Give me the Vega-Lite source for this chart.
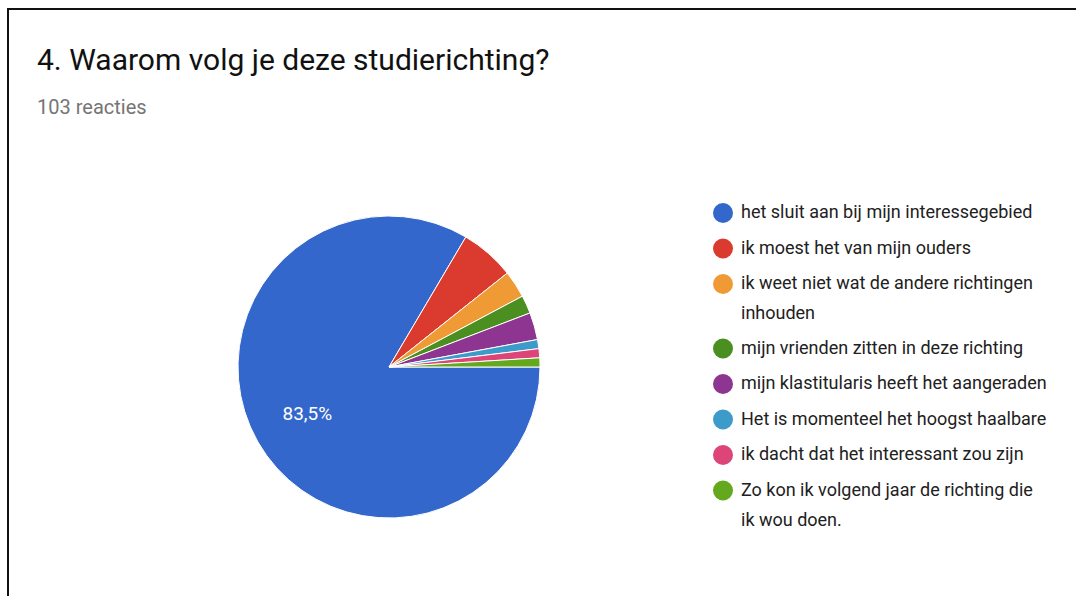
{
  "$schema": "https://vega.github.io/schema/vega-lite/v6.json",
  "width": 1100,
  "height": 620,
  "autosize": "none",
  "padding": {"left": 8, "top": 9, "right": -32, "bottom": -33},
  "background": "white",
  "view": {"stroke": "#111111", "strokeWidth": 2},
  "title": {
    "text": "4. Waarom volg je deze studierichting?",
    "subtitle": "103 reacties",
    "anchor": "start",
    "frame": "group",
    "orient": "top",
    "offset": -109,
    "dx": 29,
    "font": "Roboto",
    "fontSize": 30,
    "fontWeight": "normal",
    "color": "#111111",
    "subtitleFont": "Roboto",
    "subtitleFontSize": 20,
    "subtitleColor": "#757575",
    "subtitlePadding": 22
  },
  "data": {
    "values": [
      {"reason": "het sluit aan bij mijn interessegebied", "count": 86},
      {"reason": "ik moest het van mijn ouders", "count": 6},
      {"reason": "ik weet niet wat de andere richtingen inhouden", "count": 3},
      {"reason": "mijn vrienden zitten in deze richting", "count": 2},
      {"reason": "mijn klastitularis heeft het aangeraden", "count": 3},
      {"reason": "Het is momenteel het hoogst haalbare", "count": 1},
      {"reason": "ik dacht dat het interessant zou zijn", "count": 1},
      {"reason": "Zo kon ik volgend jaar de richting die ik wou doen.", "count": 1}
    ]
  },
  "transform": [
    {"window": [{"op": "row_number", "as": "idx"}]},
    {"joinaggregate": [{"op": "sum", "field": "count", "as": "total"}]},
    {"calculate": "datum.count / datum.total", "as": "pct"}
  ],
  "encoding": {
    "theta": {"field": "count", "type": "quantitative", "stack": true, "scale": {"range": [1.5707963, 7.8539816]}},
    "order": {"field": "idx", "type": "quantitative"},
    "color": {
      "field": "reason",
      "type": "nominal",
      "sort": null,
      "scale": {
        "domain": [
          "het sluit aan bij mijn interessegebied",
          "ik moest het van mijn ouders",
          "ik weet niet wat de andere richtingen inhouden",
          "mijn vrienden zitten in deze richting",
          "mijn klastitularis heeft het aangeraden",
          "Het is momenteel het hoogst haalbare",
          "ik dacht dat het interessant zou zijn",
          "Zo kon ik volgend jaar de richting die ik wou doen."
        ],
        "range": ["#3367CC", "#DB3B2E", "#F09A36", "#4A8F1F", "#8E3592", "#3D9BC9", "#DD4478", "#63A81D"]
      },
      "legend": {
        "orient": "none",
        "legendX": 705,
        "legendY": 194,
        "title": null,
        "padding": 0,
        "symbolType": "circle",
        "symbolSize": 400,
        "symbolStrokeWidth": 0,
        "symbolOpacity": 1,
        "labelFont": "Roboto",
        "labelFontSize": 18,
        "labelColor": "#212121",
        "labelOffset": 8,
        "labelLimit": 500,
        "rowPadding": 15.5,
        "labelExpr": "datum.label == 'ik weet niet wat de andere richtingen inhouden' ? ['ik weet niet wat de andere richtingen', 'inhouden'] : datum.label == 'Zo kon ik volgend jaar de richting die ik wou doen.' ? ['Zo kon ik volgend jaar de richting die', 'ik wou doen.'] : datum.label"
      }
    }
  },
  "layer": [
    {"mark": {"type": "arc", "outerRadius": 151, "x": 381, "y": 358, "stroke": "white", "strokeWidth": 1}},
    {
      "mark": {"type": "text", "radius": 94, "x": 381, "y": 358, "font": "Roboto", "fontSize": 19, "fill": "white"},
      "encoding": {
        "text": {"condition": {"test": "datum.pct > 0.1", "field": "pct", "format": ".1%"}, "value": ""},
        "color": {"value": "white"}
      }
    }
  ],
  "config": {
    "view": {"stroke": "#111111", "strokeWidth": 2},
    "style": {"guide-label": {"lineHeight": 30}},
    "locale": {"number": {"decimal": ",", "thousands": ".", "grouping": [3], "currency": ["€", ""]}}
  }
}
